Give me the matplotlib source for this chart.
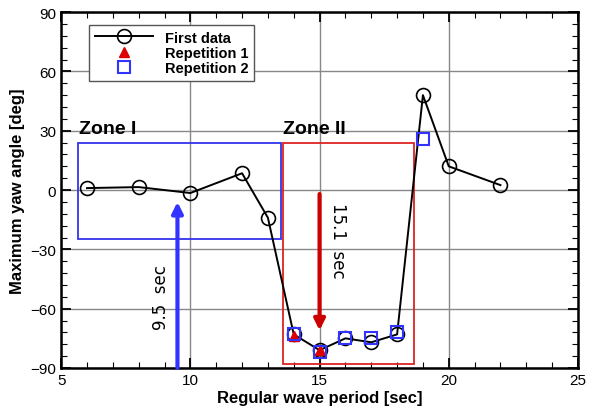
import matplotlib
matplotlib.use('Agg')
import matplotlib.pyplot as plt
from matplotlib.patches import Rectangle
from matplotlib.ticker import MultipleLocator

plt.rcParams['font.family'] = ['Liberation Sans', 'DejaVu Sans']

# wave period [sec] and maximum yaw angle [deg]
period = [6, 8, 10, 12, 13, 14, 15, 16, 17, 18, 19, 20, 22]
yaw_first = [1, 1.5, -1.5, 8.5, -14, -73, -81, -75, -77, -73, 48, 12, 2.5]

period_rep1 = [14, 15]
yaw_rep1 = [-74, -81]

period_rep2 = [14, 15, 16, 17, 18, 19]
yaw_rep2 = [-73, -82, -75, -75, -72, 26]

fig = plt.figure(figsize=(5.94, 4.10), dpi=100)
ax = fig.add_axes([0.103, 0.10, 0.870, 0.868])

ax.plot(period, yaw_first, color='black', lw=1.4, marker='o', ms=10,
        mfc='none', mec='black', mew=1.2, label='First data', zorder=4)
ax.plot(period_rep1, yaw_rep1, ls='none', marker='^', ms=7, color='#dd0000',
        label='Repetition 1', zorder=5)
ax.plot(period_rep2, yaw_rep2, ls='none', marker='s', ms=9, mfc='none',
        mec='#3333ff', mew=1.5, label='Repetition 2', zorder=5)

# zone boxes
ax.add_patch(Rectangle((5.65, -25), 13.5 - 5.65, 49, fill=False,
                       ec='#3333ee', lw=1.3, zorder=3))
ax.add_patch(Rectangle((13.6, -88), 18.65 - 13.6, 112, fill=False,
                       ec='#dd2222', lw=1.3, zorder=3))
ax.text(5.7, 27, 'Zone I', fontsize=14, fontweight='bold', ha='left', va='bottom')
ax.text(13.6, 27, 'Zone II', fontsize=14, fontweight='bold', ha='left', va='bottom')

# arrows marking resonance periods
ax.annotate('', xy=(9.5, -6), xytext=(9.5, -90),
            arrowprops=dict(arrowstyle='-|>', color='#3333ff', lw=3,
                            mutation_scale=16, shrinkA=0, shrinkB=0))
ax.annotate('', xy=(15, -71), xytext=(15, -2),
            arrowprops=dict(arrowstyle='-|>', color='#cc0000', lw=3,
                            mutation_scale=16, shrinkA=0, shrinkB=0))
ax.text(8.85, -54, '9.5  sec', rotation=90, fontsize=12, family='DejaVu Sans',
        ha='center', va='center')
ax.text(15.7, -25, '15.1  sec', rotation=-90, fontsize=12, family='DejaVu Sans',
        ha='center', va='center')

ax.set_xlim(5, 25)
ax.set_ylim(-90, 90)
ax.xaxis.set_major_locator(MultipleLocator(5))
ax.xaxis.set_minor_locator(MultipleLocator(1))
ax.yaxis.set_major_locator(MultipleLocator(30))
ax.yaxis.set_minor_locator(MultipleLocator(6))
ax.tick_params(which='both', direction='in', top=True, right=True, labelsize=11)
ax.tick_params(which='major', length=7, width=1.3)
ax.tick_params(which='minor', length=4, width=0.8)
ax.grid(True, which='major', color='#888888', lw=1)
for s in ax.spines.values():
    s.set_linewidth(1.8)

ax.set_xlabel('Regular wave period [sec]', fontsize=12, fontweight='bold', labelpad=2)
ax.set_ylabel('Maximum yaw angle [deg]', fontsize=12, fontweight='bold', labelpad=4)

leg = ax.legend(loc='upper left', bbox_to_anchor=(0.04, 0.985),
                prop={'weight': 'bold', 'size': 10.5}, fancybox=False,
                framealpha=1, edgecolor='#555555', handlelength=4,
                borderpad=0.4, labelspacing=0.1)
leg.get_frame().set_linewidth(1)

fig.savefig('out.png', dpi=100)
